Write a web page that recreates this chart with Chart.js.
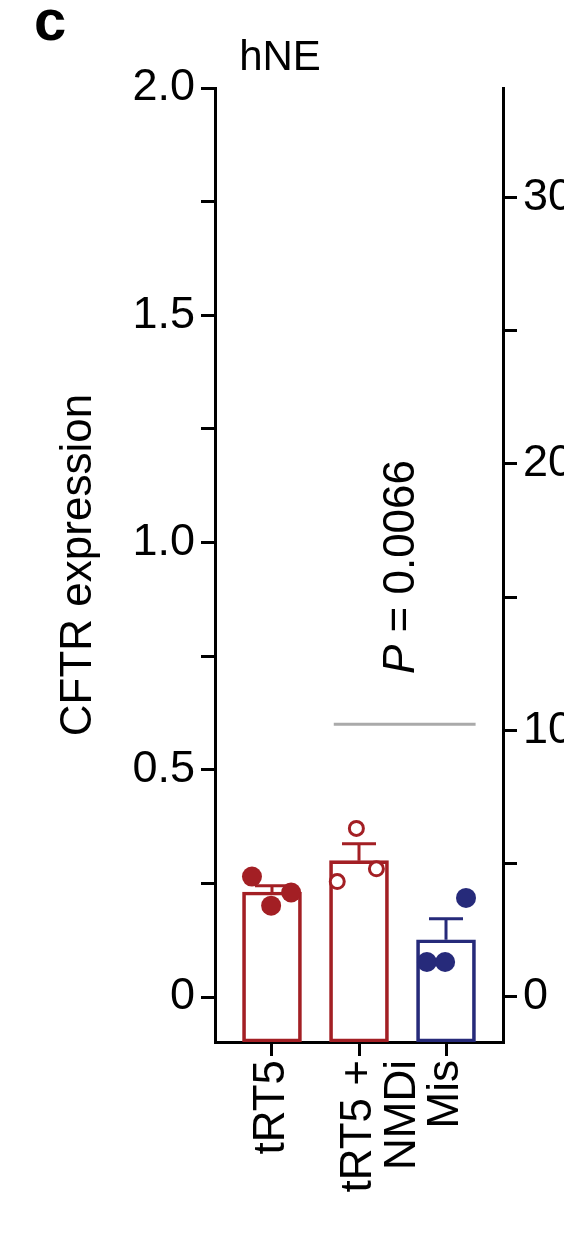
<!DOCTYPE html>
<html>
<head>
<meta charset="utf-8">
<script src="https://cdn.jsdelivr.net/npm/chart.js@4"></script>
<style>
  body { margin: 0; background: #fff; }
  #wrap { width: 564px; height: 1254px; }
</style>
</head>
<body>
<div id="wrap"><canvas id="grafico" width="564" height="1254"></canvas></div>
<script>
const categories = [['tRT5'], ['tRT5 +', 'NMDi'], ['Mis']];
const means = [0.231, 0.30, 0.126];
const sems = [0.014, 0.037, 0.046];
const colors = ['#a31f24', '#a31f24', '#262a7a'];
const pointsX = [[0.77, 0.99, 1.22], [1.97, 1.75, 2.20], [3.23, 2.78, 2.99]];
const pointsY = [[0.265, 0.201, 0.230], [0.371, 0.254, 0.282], [0.218, 0.077, 0.077]];
const pValueLine = [[1.71, 0.6], [3.34, 0.6]];
const yMin = -0.099, yMax = 2.0;
const FONT = 'Liberation Sans, Arial, sans-serif';

const barData = means.map((m, i) => ({ x: i + 1, y: [yMin, m] }));

const datasets = [
  {
    type: 'bar',
    data: barData,
    backgroundColor: 'rgba(255,255,255,0)',
    borderColor: colors,
    borderWidth: 3,
    borderSkipped: false,
    barThickness: 59,
    order: 3
  }
];
pointsX.forEach((xs, i) => {
  datasets.push({
    type: 'scatter',
    data: xs.map((x, j) => ({ x: x, y: pointsY[i][j] })),
    pointRadius: i === 1 ? 7 : 10,
    pointBorderWidth: i === 1 ? 3 : 0,
    pointBackgroundColor: i === 1 ? '#fff' : colors[i],
    pointBorderColor: colors[i],
    order: 1
  });
});
datasets.push({
  type: 'line',
  data: pValueLine.map(p => ({ x: p[0], y: p[1] })),
  borderColor: '#aaaaaa',
  borderWidth: 3,
  pointRadius: 0,
  order: 2
});

const errorBars = {
  id: 'errorBars',
  afterDatasetsDraw(chart) {
    const c = chart.ctx, x = chart.scales.x, y = chart.scales.y;
    c.save();
    c.lineWidth = 3;
    means.forEach((m, i) => {
      const px = x.getPixelForValue(i + 1);
      const top = y.getPixelForValue(m + sems[i]);
      c.strokeStyle = colors[i];
      c.beginPath();
      c.moveTo(px, y.getPixelForValue(m));
      c.lineTo(px, top);
      c.moveTo(px - 17, top);
      c.lineTo(px + 17, top);
      c.stroke();
    });
    c.restore();
  }
};

const texts = {
  id: 'texts',
  afterDraw(chart) {
    const c = chart.ctx;
    c.save();
    c.fillStyle = '#000';
    c.font = '900 58px ' + FONT;
    c.textBaseline = 'alphabetic';
    c.fillText('c', 34, 40);
    c.font = '42px ' + FONT;
    c.textAlign = 'center';
    c.fillText('hNE', 280, 70);
    c.translate(414, 567);
    c.rotate(-Math.PI / 2);
    c.font = 'italic 44px ' + FONT;
    const pW = c.measureText('P').width;
    c.font = '44px ' + FONT;
    const rest = ' = 0.0066';
    const rW = c.measureText(rest).width;
    c.textAlign = 'left';
    const start = -(pW + rW) / 2;
    c.font = 'italic 44px ' + FONT;
    c.fillText('P', start, 0);
    c.font = '44px ' + FONT;
    c.fillText(rest, start + pW, 0);
    c.restore();
  }
};

new Chart(document.getElementById('grafico').getContext('2d'), {
  data: { datasets: datasets },
  plugins: [errorBars, texts],
  options: {
    responsive: false,
    animation: false,
    layout: { padding: { top: 88, left: 52 } },
    plugins: { legend: { display: false }, tooltip: { enabled: false } },
    scales: {
      x: {
        type: 'linear', min: 0.345, max: 3.655, offset: false,
        grid: { drawOnChartArea: false, offset: false, color: '#000', lineWidth: 3, tickLength: 14 },
        border: { color: '#000', width: 3 },
        afterBuildTicks: s => { s.ticks = [1, 2, 3].map(v => ({ value: v })); },
        afterFit: s => { s.height = 212; },
        ticks: {
          color: '#000', font: { size: 44, family: FONT, lineHeight: 1.0 }, minRotation: 90, maxRotation: 90,
          padding: 4, autoSkip: false,
          callback: v => categories[v - 1]
        }
      },
      y: {
        position: 'left', min: yMin, max: yMax,
        grid: { drawOnChartArea: false, color: '#000', lineWidth: 3, tickLength: 14 },
        border: { color: '#000', width: 3 },
        afterBuildTicks: s => { s.ticks = [0, 0.25, 0.5, 0.75, 1, 1.25, 1.5, 1.75, 2].map(v => ({ value: v })); },
        afterFit: s => { s.width = 163; },
        title: { display: true, text: 'CFTR expression', color: '#000', font: { size: 44, family: FONT }, padding: 0 },
        ticks: {
          color: '#000', font: { size: 45, family: FONT }, padding: 6,
          callback: v => (Math.round(v * 100) % 50 === 0 ? (v === 0 ? '0' : v.toFixed(1)) : '')
        }
      },
      y1: {
        position: 'right', min: -1.69, max: 34.1,
        grid: { drawOnChartArea: false, color: '#000', lineWidth: 3, tickLength: 14 },
        border: { color: '#000', width: 3 },
        afterBuildTicks: s => { s.ticks = [0, 5, 10, 15, 20, 25, 30].map(v => ({ value: v })); },
        afterFit: s => { s.width = 61; },
        ticks: {
          color: '#000', font: { size: 45, family: FONT }, padding: 6,
          callback: v => (v % 10 === 0 ? String(v) : '')
        }
      }
    }
  }
});
</script>
</body>
</html>
